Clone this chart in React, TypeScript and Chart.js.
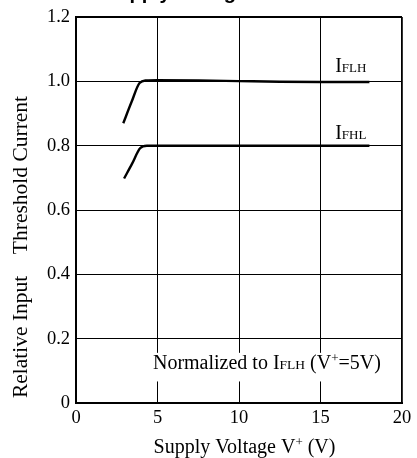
import React, { useEffect, useRef } from "react";
import { Chart, registerables } from "chart.js";

Chart.register(...registerables);

// ---- data ----
const voltageFLH = [2.9, 3.4, 3.9, 4.3, 5, 7.5, 10, 12.5, 15, 18];
const currentFLH = [0.87, 0.935, 0.995, 1.003, 1.004, 1.003, 1.001, 0.999, 0.998, 0.998];
const voltageFHL = [2.95, 3.45, 3.93, 4.35, 5, 7.5, 10, 12.5, 15, 18];
const currentFHL = [0.698, 0.745, 0.792, 0.8, 0.8, 0.8, 0.8, 0.8, 0.8, 0.8];
const xTickValues = [0, 5, 10, 15, 20];
const yTickValues = [0, 0.2, 0.4, 0.6, 0.8, 1.0, 1.2];
const yTickLabels = ["0", "0.2", "0.4", "0.6", "0.8", "1.0", "1.2"];
const seriesNames = ["I|FLH", "I|FHL"];

const SERIF = '"Liberation Serif", "DejaVu Serif", serif';

type Run = { text: string; size: number; dy?: number; bold?: boolean; family?: string };

function runsWidth(ctx: CanvasRenderingContext2D, runs: Run[]) {
  let w = 0;
  for (const r of runs) {
    ctx.font = `${r.bold ? "bold " : ""}${r.size}px ${r.family || SERIF}`;
    w += ctx.measureText(r.text).width;
  }
  return w;
}

function drawRuns(ctx: CanvasRenderingContext2D, x: number, y: number, runs: Run[]) {
  let cx = x;
  for (const r of runs) {
    ctx.font = `${r.bold ? "bold " : ""}${r.size}px ${r.family || SERIF}`;
    ctx.fillText(r.text, cx, y + (r.dy || 0));
    cx += ctx.measureText(r.text).width;
  }
  return cx;
}

function nameRuns(name: string, big: number, small: number): Run[] {
  const [main, sub] = name.split("|");
  return [
    { text: main, size: big },
    { text: sub, size: small },
  ];
}

const textPlugin = {
  id: "textPlugin",
  afterDraw(chart: any) {
    const ctx: CanvasRenderingContext2D = chart.ctx;
    const xs = chart.scales.x;
    const ys = chart.scales.y;
    ctx.save();
    ctx.fillStyle = "#000";
    ctx.textBaseline = "alphabetic";
    ctx.textAlign = "left";

    // cropped title at very top
    ctx.font = 'bold 20px "Liberation Sans", Arial, sans-serif';
    ctx.fillText("Supply Voltage", 104, -1.5);

    // curve labels
    const labelPos = [
      [15.9, 1.028],
      [15.9, 0.822],
    ];
    seriesNames.forEach((n, i) => {
      drawRuns(ctx, xs.getPixelForValue(labelPos[i][0]), ys.getPixelForValue(labelPos[i][1]), nameRuns(n, 20, 13));
    });

    // normalized note with white box
    const bx0 = xs.getPixelForValue(4.55);
    const bx1 = xs.getPixelForValue(19.4);
    const by0 = ys.getPixelForValue(0.156);
    const by1 = ys.getPixelForValue(0.067);
    ctx.fillStyle = "#fff";
    ctx.fillRect(bx0, by0, bx1 - bx0, by1 - by0);
    ctx.fillStyle = "#000";
    const noteRuns: Run[] = [
      { text: "Normalized to ", size: 20 },
      ...nameRuns(seriesNames[0], 20, 13.5),
      { text: " (V", size: 20 },
      { text: "+", size: 13, dy: -7 },
      { text: "=5V)", size: 20 },
    ];
    drawRuns(ctx, xs.getPixelForValue(4.72), ys.getPixelForValue(0.107), noteRuns);

    // x-axis title
    const xt: Run[] = [
      { text: "Supply Voltage V", size: 20 },
      { text: "+", size: 13, dy: -7 },
      { text: " (V)", size: 20 },
    ];
    const xw = runsWidth(ctx, xt);
    drawRuns(ctx, 244.5 - xw / 2, 453, xt);

    // y-axis title
    ctx.translate(27, 247);
    ctx.rotate(-Math.PI / 2);
    ctx.font = `21.5px ${SERIF}`;
    ctx.textAlign = "center";
    ctx.fillText("Relative Input    Threshold Current", 0, 0);
    ctx.restore();
  },
};

export default function App() {
  const ref = useRef<HTMLCanvasElement | null>(null);
  useEffect(() => {
    if (!ref.current) return;
    const chart = new Chart(ref.current, {
      type: "line",
      data: {
        datasets: [
          {
            label: "IFLH",
            data: voltageFLH.map((v, i) => ({ x: v, y: currentFLH[i] })),
            borderColor: "#000",
            borderWidth: 2.4,
            pointRadius: 0,
            cubicInterpolationMode: "monotone",
          },
          {
            label: "IFHL",
            data: voltageFHL.map((v, i) => ({ x: v, y: currentFHL[i] })),
            borderColor: "#000",
            borderWidth: 2.4,
            pointRadius: 0,
            cubicInterpolationMode: "monotone",
          },
        ],
      },
      options: {
        responsive: false,
        animation: false,
        devicePixelRatio: 1,
        layout: { padding: { top: 12, right: 15, left: 0, bottom: 0 } },
        plugins: { legend: { display: false }, tooltip: { enabled: false }, title: { display: false } },
        scales: {
          x: {
            type: "linear",
            min: 0,
            max: 20,
            afterBuildTicks: (s: any) => {
              s.ticks = xTickValues.map((v) => ({ value: v }));
            },
            afterFit: (s: any) => {
              s.height = 55;
            },
            ticks: {
              color: "#000",
              font: { family: SERIF, size: 18.5 },
              padding: 4,
              maxRotation: 0,
              callback: (v: any) => String(v),
            },
            grid: {
              color: "#000",
              lineWidth: (c: any) => (c.tick && c.tick.value === 20 ? 1.8 : 1),
              drawTicks: false,
            },
            border: { color: "#000", width: 2 },
          },
          y: {
            type: "linear",
            min: 0,
            max: 1.2,
            afterBuildTicks: (s: any) => {
              s.ticks = yTickValues.map((v) => ({ value: v }));
            },
            afterFit: (s: any) => {
              s.width = 76;
            },
            ticks: {
              color: "#000",
              font: { family: SERIF, size: 18.5 },
              padding: 6,
              callback: (v: any, i: number) => yTickLabels[i],
            },
            grid: {
              color: "#000",
              lineWidth: (c: any) => (c.tick && c.tick.value === 1.2 ? 2 : 1),
              drawTicks: false,
            },
            border: { color: "#000", width: 2 },
          },
        },
      } as any,
      plugins: [textPlugin],
    });
    return () => chart.destroy();
  }, []);
  return (
    <div style={{ position: "fixed", left: 0, top: 0, width: 417, height: 458, background: "#fff" }}>
      <canvas ref={ref} width={417} height={458} style={{ display: "block" }} />
    </div>
  );
}
